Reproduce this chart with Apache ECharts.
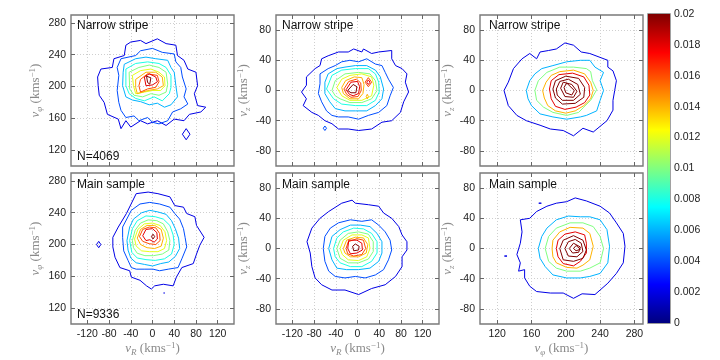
<!DOCTYPE html>
<html>
<head>
<meta charset="UTF-8">
<title>Velocity distribution contours</title>
<script src="https://cdn.jsdelivr.net/npm/echarts@6/dist/echarts.min.js"></script>
<style>
  html, body { margin: 0; padding: 0; background: #fff; }
  #main { width: 720px; height: 360px; }
</style>
</head>
<body>
<div id="main"></div>
<script>
// tick labels
var ticksVR = [-120, -80, -40, 0, 40, 80, 120];
var ticksVphi = [120, 160, 200, 240, 280];
var ticksVz = [-80, -40, 0, 40, 80];
var colorbarMax = 0.02;
var sampleNames = ['Narrow stripe', 'Main sample'];
var sampleSizes = [4069, 9336];

// contours, one row per closed line: [level, [[x, y], ...]]
var narrowRPhi = [
  [0.002, [[-101,212],[-95,222],[-74,224],[-71,235],[-52,239],[-49,252],[-40,256],[-22,258],[-12,254],[9,260],[25,254],[43,252],[46,239],[58,233],[65,222],[80,218],[83,201],[77,191],[83,176],[98,174],[89,168],[68,165],[58,157],[40,159],[25,151],[9,157],[-9,153],[-22,157],[-40,149],[-49,157],[-58,147],[-63,159],[-83,165],[-89,180],[-98,189],[-100,201]]],
  [0.002, [[55,140],[62,147],[69,140],[62,133]]],
  [0.004, [[-58,235],[-31,239],[-22,245],[0,248],[18,243],[40,241],[43,231],[52,224],[55,212],[62,197],[58,187],[65,178],[52,172],[37,168],[28,157],[12,153],[0,155],[-9,161],[-25,157],[-34,163],[-49,161],[-58,170],[-62,180],[-65,195],[-62,214],[-65,224]]],
  [0.006, [[-52,228],[-31,235],[-12,237],[6,235],[28,233],[34,224],[40,218],[43,201],[46,187],[34,177],[22,174],[9,179],[-6,177],[-22,181],[-37,183],[-49,187],[-55,201],[-54,218]]],
  [0.008, [[-49,222],[-31,229],[-9,231],[12,229],[25,224],[34,214],[34,199],[31,191],[18,182],[3,187],[-15,182],[-31,185],[-43,191],[-49,201]]],
  [0.010, [[-43,218],[-25,224],[-6,227],[12,224],[25,218],[28,203],[25,193],[12,189],[-3,191],[-18,187],[-34,189],[-42,197]]],
  [0.012, [[-37,214],[-22,220],[-3,222],[12,218],[22,212],[23,201],[15,195],[0,195],[-15,193],[-31,191],[-35,201]]],
  [0.014, [[-31,209],[-12,218],[6,218],[18,212],[20,201],[9,197],[-9,195],[-28,191],[-31,199]]],
  [0.016, [[-22,209],[-9,216],[9,214],[12,206],[6,199],[-9,197],[-22,193],[-25,201]]],
  [0.018, [[-15,212],[-6,216],[6,212],[9,206],[0,202],[-12,201]]],
  [0.020, [[-11,213],[-3,211],[-5,203],[-9,205]]]
];
var narrowRZ = [
  [0.002, [[-103,-2],[-94,7],[-94,18],[-78,29],[-69,33],[-66,42],[-54,46],[-35,51],[-17,51],[-7,55],[8,51],[11,55],[26,49],[39,51],[63,53],[63,42],[70,33],[82,29],[91,22],[88,11],[94,-2],[85,-15],[79,-29],[63,-40],[45,-42],[26,-51],[2,-53],[-17,-51],[-35,-51],[-47,-44],[-60,-40],[-72,-33],[-84,-29],[-100,-20],[-94,-11]]],
  [0.004, [[-69,9],[-69,22],[-54,29],[-41,33],[-29,38],[-14,40],[2,38],[17,42],[33,35],[45,33],[51,24],[57,15],[66,4],[60,-7],[54,-20],[39,-29],[20,-33],[2,-38],[-17,-35],[-35,-35],[-47,-33],[-57,-27],[-66,-15],[-72,-4]]],
  [0.004, [[-63,-50],[-60,-47],[-57,-50],[-60,-53]]],
  [0.006, [[-60,11],[-54,22],[-38,29],[-23,31],[-4,33],[17,33],[33,27],[42,18],[48,2],[45,-11],[33,-20],[17,-27],[-4,-27],[-23,-27],[-41,-24],[-51,-15],[-60,-4]]],
  [0.008, [[-57,2],[-47,20],[-29,27],[-4,29],[20,29],[33,22],[39,11],[40,-2],[33,-13],[17,-20],[-4,-20],[-29,-18],[-44,-11]]],
  [0.010, [[-47,0],[-41,13],[-23,22],[2,24],[23,22],[33,13],[36,0],[26,-11],[8,-16],[-14,-16],[-32,-11],[-41,-7]]],
  [0.012, [[-38,4],[-29,15],[-14,20],[8,22],[26,18],[30,7],[26,-7],[8,-13],[-14,-13],[-29,-7]]],
  [0.014, [[-29,4],[-22,13],[-6,18],[8,17],[12,8],[10,-4],[2,-11],[-14,-11],[-26,-4]]],
  [0.014, [[16,-8],[18,-5],[20,-8],[18,-11]]],
  [0.016, [[-25,2],[-16,12],[-2,15],[6,10],[7,0],[1,-8],[-12,-9],[-20,-5]]],
  [0.016, [[14,11],[20,17],[26,11],[20,5]]],
  [0.018, [[-21,1],[-12,11],[0,12],[4,5],[2,-4],[-8,-7],[-15,-5]]],
  [0.018, [[17,11],[20,14],[23,11],[20,8]]],
  [0.020, [[-18,0],[-8,8],[-1,5],[-3,-3],[-12,-3]]]
];
var narrowPhiZ = [
  [0.002, [[128,0],[133,11],[139,29],[149,42],[158,49],[166,42],[170,51],[180,53],[189,55],[199,63],[209,60],[218,51],[228,49],[249,40],[249,31],[255,26],[259,13],[257,0],[255,-13],[255,-26],[248,-40],[232,-55],[220,-50],[209,-60],[197,-53],[182,-51],[170,-46],[154,-40],[143,-33],[133,-20]]],
  [0.006, [[154,0],[158,13],[164,22],[172,29],[185,33],[201,38],[217,40],[228,40],[234,31],[244,24],[240,13],[244,0],[240,-13],[236,-27],[224,-33],[217,-35],[201,-38],[185,-35],[170,-31],[160,-20],[156,-11]]],
  [0.010, [[164,0],[168,13],[178,24],[193,31],[209,31],[224,29],[229,25],[231,13],[236,1],[229,-13],[221,-22],[215,-29],[201,-33],[185,-29],[174,-22],[166,-13]]],
  [0.014, [[173,0],[177,11],[183,20],[193,25],[209,27],[222,22],[229,11],[232,0],[229,-11],[221,-20],[211,-27],[200,-30],[188,-27],[179,-20],[175,-10]]],
  [0.018, [[181,2],[183,13],[192,21],[208,23],[221,18],[227,7],[228,-6],[222,-16],[212,-22],[199,-25],[188,-21],[183,-11]]],
  [0.022, [[185,2],[188,13],[200,19],[215,16],[222,4],[221,-9],[211,-17],[196,-18],[188,-10]]],
  [0.026, [[189,2],[193,12],[203,15],[214,8],[217,-5],[209,-13],[196,-13],[190,-6]]],
  [0.030, [[194,3],[197,11],[207,8],[213,-1],[209,-9],[199,-8]]],
  [0.034, [[198,4],[201,10],[210,0],[207,-6],[200,-3]]]
];
var mainRPhi = [
  [0.002, [[-73,209],[-63,222],[-48,239],[-30,264],[-8,266],[10,264],[32,260],[41,249],[57,247],[63,239],[78,235],[81,224],[95,209],[87,199],[81,188],[75,176],[54,171],[44,159],[38,148],[20,150],[4,148],[-2,144],[-11,148],[-23,155],[-39,159],[-42,167],[-60,171],[-69,184],[-73,197]]],
  [0.002, [[-103,200],[-99,204],[-95,200],[-99,196]]],
  [0.002, [[20,139],[21.5,140.5],[23,139],[21.5,137.5]]],
  [0.004, [[-55,222],[-39,243],[-23,251],[-5,253],[13,251],[32,247],[41,239],[50,232],[57,220],[60,209],[63,197],[54,182],[47,171],[29,169],[13,167],[1,169],[-14,169],[-30,169],[-39,171],[-45,180],[-53,192],[-55,209]]],
  [0.006, [[-47,205],[-42,222],[-35,232],[-20,240],[-5,243],[10,241],[25,238],[35,230],[42,220],[48,208],[50,195],[42,185],[30,178],[15,176],[0,173],[-15,175],[-30,177],[-40,183],[-45,193]]],
  [0.008, [[-42,205],[-37,220],[-28,230],[-12,236],[5,235],[20,232],[32,224],[38,212],[40,200],[35,188],[22,182],[5,180],[-12,181],[-28,183],[-38,190]]],
  [0.010, [[-37,205],[-32,218],[-22,227],[-8,231],[8,230],[20,226],[28,216],[32,205],[30,193],[18,188],[2,186],[-14,186],[-28,189],[-35,196]]],
  [0.012, [[-33,207],[-27,219],[-15,226],[0,227],[14,224],[23,216],[26,205],[22,195],[10,191],[-5,191],[-20,192],[-30,198]]],
  [0.014, [[-28,208],[-22,219],[-10,224],[4,224],[16,219],[20,208],[16,198],[4,195],[-10,196],[-22,200]]],
  [0.016, [[-24,210],[-18,219],[-6,222],[6,221],[13,214],[14,205],[6,200],[-6,201],[-18,204]]],
  [0.018, [[-18,211],[-12,219],[0,220],[8,215],[9,207],[3,203],[-5,206],[-12,205]]],
  [0.020, [[-2,210],[1,213],[4,210],[1,207]]]
];
var mainRZ = [
  [0.002, [[-93,9],[-84,27],[-69,40],[-53,49],[-29,60],[-10,64],[-4,60],[20,58],[39,56],[48,47],[63,40],[76,29],[82,18],[91,9],[91,-2],[82,-11],[82,-24],[70,-37],[51,-48],[26,-53],[2,-61],[-23,-55],[-47,-55],[-66,-48],[-78,-39],[-84,-24],[-87,-6]]],
  [0.004, [[-63,0],[-60,16],[-50,27],[-35,34],[-13,38],[8,36],[26,38],[39,31],[51,22],[60,11],[63,-2],[57,-15],[48,-28],[33,-35],[14,-39],[-4,-37],[-23,-39],[-41,-37],[-53,-30],[-60,-17]]],
  [0.006, [[-53,0],[-47,16],[-32,25],[-13,31],[5,31],[23,29],[36,20],[45,9],[45,-6],[39,-17],[23,-26],[2,-28],[-20,-28],[-38,-26],[-47,-15]]],
  [0.008, [[-44,0],[-38,14],[-26,22],[-7,27],[11,26],[26,20],[36,9],[36,-6],[26,-17],[8,-24],[-13,-24],[-32,-19],[-41,-11]]],
  [0.010, [[-38,0],[-32,11],[-17,20],[2,22],[20,19],[29,9],[29,-4],[20,-14],[2,-19],[-17,-19],[-32,-13]]],
  [0.012, [[-32,0],[-26,11],[-10,18],[8,18],[20,14],[23,0],[17,-11],[2,-16],[-17,-15],[-28,-8]]],
  [0.014, [[-26,0],[-20,11],[-4,15],[11,14],[19,5],[16,-6],[2,-11],[-13,-11],[-23,-6]]],
  [0.016, [[-21,0],[-17,9],[-1,13],[11,11],[15,0],[8,-8],[-7,-10],[-18,-7]]],
  [0.018, [[-18,0],[-16,11],[-1,11],[8,7],[9,-2],[-1,-6],[-13,-7]]],
  [0.020, [[-9,3],[-4,6],[3,3],[2,-2],[-7,-3]]]
];
var mainPhiZ = [
  [0.002, [[143,-8],[147,7],[149,22],[147,38],[158,40],[166,49],[178,56],[189,60],[201,62],[211,67],[224,63],[240,56],[251,47],[259,34],[267,20],[269,3],[267,-19],[259,-33],[249,-46],[234,-61],[219,-60],[209,-66],[197,-59],[182,-59],[166,-57],[158,-50],[152,-39],[152,-28],[145,-30],[147,-19]]],
  [0.002, [[168.5,60],[170,61.5],[171.5,60],[170,58.5]]],
  [0.002, [[128.5,-10],[130,-8.5],[131.5,-10],[130,-11.5]]],
  [0.006, [[168,0],[172,16],[178,27],[189,38],[203,43],[217,42],[228,42],[240,38],[248,25],[251,3],[249,-19],[240,-33],[228,-37],[217,-39],[201,-39],[185,-35],[176,-24],[170,-13]]],
  [0.010, [[176,0],[180,16],[189,27],[205,34],[220,34],[232,29],[240,16],[244,0],[240,-19],[228,-26],[217,-30],[201,-30],[189,-26],[180,-17]]],
  [0.014, [[184,0],[185,11],[193,22],[205,28],[220,27],[228,20],[232,3],[228,-15],[220,-22],[213,-26],[201,-25],[189,-19],[185,-11]]],
  [0.018, [[189,0],[191,11],[199,19],[211,22],[222,18],[224,7],[224,-6],[217,-17],[209,-23],[197,-20],[191,-11]]],
  [0.022, [[193,0],[197,11],[209,17],[220,11],[224,-2],[220,-13],[209,-17],[197,-15]]],
  [0.026, [[199,0],[203,9],[211,12],[218,7],[220,-4],[213,-11],[203,-10]]],
  [0.030, [[204,0],[209,7],[217,2],[215,-5],[208,-6]]],
  [0.034, [[209,0],[212,4],[217,-1],[212,-3]]]
];

// jet colormap, t in [0,1]
function jet(t) {
  t = Math.max(0, Math.min(1, t));
  var c = function (v) { return Math.round(255 * Math.max(0, Math.min(1, 1.5 - Math.abs(v)))); };
  return 'rgb(' + c(4 * t - 3) + ',' + c(4 * t - 2) + ',' + c(4 * t - 1) + ')';
}

var FONT = 'Liberation Sans, Arial, sans-serif';
var GREY = '#8a8a8a';
var nameRich = {
  v: { fontFamily: 'Liberation Serif', fontStyle: 'italic', fontSize: 13, color: GREY },
  s: { fontFamily: 'Liberation Serif', fontStyle: 'italic', fontSize: 9, color: GREY, padding: [7, 0, 0, 0] },
  u: { fontFamily: 'Liberation Serif', fontSize: 13, color: GREY },
  p: { fontFamily: 'Liberation Serif', fontSize: 9, color: GREY, padding: [0, 0, 7, 0] }
};
function velName(sub) {
  return '{v|v}{s|' + sub + '}{u| (kms}{p|−1}{u|)}';
}

var panels = [
  { left: 71,  top: 15,  xr: [-150, 150], yr: [100, 290], xt: ticksVR,   yt: ticksVphi, xs: 'R', ys: 'φ', data: narrowRPhi, nameGap: 27 },
  { left: 276, top: 15,  xr: [-150, 150], yr: [-100, 100], xt: ticksVR,  yt: ticksVz,   xs: 'R', ys: 'z', data: narrowRZ,   nameGap: 23 },
  { left: 480, top: 15,  xr: [100, 290], yr: [-100, 100],  xt: ticksVphi, yt: ticksVz,  xs: 'φ', ys: 'z', data: narrowPhiZ, nameGap: 23 },
  { left: 71,  top: 173, xr: [-150, 150], yr: [100, 290], xt: ticksVR,   yt: ticksVphi, xs: 'R', ys: 'φ', data: mainRPhi,   nameGap: 27 },
  { left: 276, top: 173, xr: [-150, 150], yr: [-100, 100], xt: ticksVR,  yt: ticksVz,   xs: 'R', ys: 'z', data: mainRZ,     nameGap: 23 },
  { left: 480, top: 173, xr: [100, 290], yr: [-100, 100],  xt: ticksVphi, yt: ticksVz,  xs: 'φ', ys: 'z', data: mainPhiZ,   nameGap: 23 }
];

var grids = [], xAxes = [], yAxes = [], mirrorX = [], mirrorY = [], series = [];
var tickStyle = { inside: true, length: 4, lineStyle: { color: '#666', width: 1 } };
var noLine = { show: false, onZero: false };

panels.forEach(function (p, i) {
  var bottomRow = i >= 3;
  grids.push({ left: p.left, top: p.top, width: 163, height: 151, show: true,
    borderColor: '#7a7a7a', borderWidth: 1.4, backgroundColor: '#fff' });
  xAxes.push({
    gridIndex: i, type: 'value', min: p.xr[0], max: p.xr[1], position: 'bottom',
    axisLine: noLine,
    axisTick: Object.assign({ customValues: p.xt }, tickStyle),
    axisLabel: { show: bottomRow, customValues: p.xt, color: '#222', fontSize: 10.5, fontFamily: FONT, margin: 5 },
    splitLine: { show: true, lineStyle: { color: '#cfcfcf', type: [1, 2] } },
    name: bottomRow ? velName(p.xs) : '', nameLocation: 'middle', nameGap: 16,
    nameTextStyle: { rich: nameRich }
  });
  yAxes.push({
    gridIndex: i, type: 'value', min: p.yr[0], max: p.yr[1], position: 'left',
    axisLine: noLine,
    axisTick: Object.assign({ customValues: p.yt }, tickStyle),
    axisLabel: { customValues: p.yt, color: '#222', fontSize: 10.5, fontFamily: FONT, margin: 5 },
    splitLine: { show: true, lineStyle: { color: '#cfcfcf', type: [1, 2] } },
    name: velName(p.ys), nameLocation: 'middle', nameRotate: 90, nameGap: p.nameGap,
    nameTextStyle: { rich: nameRich }
  });
  mirrorX.push({
    gridIndex: i, type: 'value', min: p.xr[0], max: p.xr[1], position: 'top',
    axisLine: noLine, axisTick: Object.assign({ customValues: p.xt }, tickStyle),
    axisLabel: { show: false }, splitLine: { show: false }
  });
  mirrorY.push({
    gridIndex: i, type: 'value', min: p.yr[0], max: p.yr[1], position: 'right',
    axisLine: noLine, axisTick: Object.assign({ customValues: p.yt }, tickStyle),
    axisLabel: { show: false }, splitLine: { show: false }
  });
  p.data.forEach(function (c) {
    var pts = c[1].concat([c[1][0]]);
    series.push({
      type: 'line', xAxisIndex: i, yAxisIndex: i, data: pts,
      symbol: 'none', smooth: false, silent: true, clip: true, z: 3,
      lineStyle: { color: jet(c[0] / colorbarMax), width: 1 }
    });
  });
});

// colorbar
var stops = [];
for (var k = 0; k <= 32; k++) stops.push({ offset: k / 32, color: jet(k / 32) });
grids.push({ left: 648, top: 14, width: 22, height: 309, show: true, borderColor: '#7a7a7a', borderWidth: 1.4 });
var cbX = { gridIndex: 6, type: 'category', data: ['c'], show: false };
var cbY = {
  gridIndex: 6, type: 'value', min: 0, max: colorbarMax, interval: 0.002, position: 'right',
  axisLine: noLine, axisTick: tickStyle, splitLine: { show: false },
  axisLabel: { color: '#222', fontSize: 10.5, fontFamily: FONT, margin: 4,
    formatter: function (v) { return String(+v.toFixed(3)); } }
};
series.push({
  type: 'bar', xAxisIndex: 12, yAxisIndex: 12, data: [colorbarMax], barWidth: '100%', silent: true, z: 1,
  itemStyle: { color: new echarts.graphic.LinearGradient(0, 1, 0, 0, stops) }
});

var titles = [];
[77, 282, 489].forEach(function (x) {
  titles.push({ text: sampleNames[0], left: x, top: 20 });
  titles.push({ text: sampleNames[1], left: x, top: 179 });
});
titles.push({ text: 'N=' + sampleSizes[0], left: 77, top: 151 });
titles.push({ text: 'N=' + sampleSizes[1], left: 77, top: 309 });
titles.forEach(function (t) {
  t.padding = 0;
  t.textStyle = { fontSize: 12, fontWeight: 'normal', color: '#111', fontFamily: FONT };
});

var myChart = echarts.init(document.getElementById('main'));
myChart.setOption({
  animation: false,
  backgroundColor: '#fff',
  title: titles,
  grid: grids,
  xAxis: xAxes.concat(mirrorX, [cbX]),
  yAxis: yAxes.concat(mirrorY, [cbY]),
  series: series
});
window.onresize = myChart.resize;
</script>
</body>
</html>
